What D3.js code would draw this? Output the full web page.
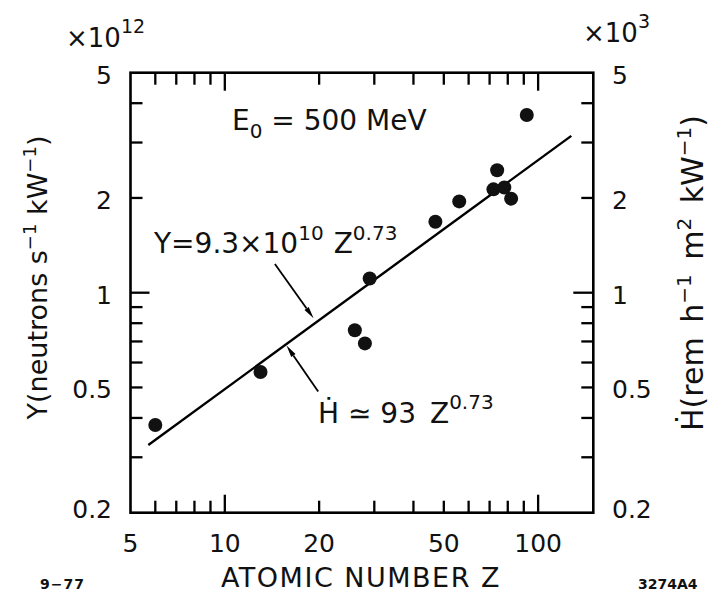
<!DOCTYPE html>
<html><head><meta charset="utf-8">
<script src="https://cdn.jsdelivr.net/npm/d3@7"></script>
<style>
body{margin:0;background:#fff}
svg{display:block}
text{font-family:"DejaVu Sans",sans-serif;fill:#111}
</style>
</head><body>
<svg id="c" width="710" height="594"></svg>
<script>
// ---- data ----
const atomicNumbers = [6, 13, 26, 28, 29, 47, 56, 72, 74, 78, 82, 92];
const neutronYield  = [0.38, 0.56, 0.76, 0.69, 1.11, 1.68, 1.95, 2.13, 2.45, 2.16, 1.99, 3.67]; // ×10^12
const fitZ     = [5.7, 127.6];
const fitYield = [0.328, 3.15];
const xMinorTicks = [6, 7, 8, 9, 20, 30, 40, 50, 60, 70, 80, 90];
const xMajorTicks = [10, 100];
const xTickLabels = [5, 10, 20, 50, 100];
const yMinorTicks = [0.3, 0.4, 0.5, 0.6, 0.7, 0.8, 0.9, 2, 3, 4];
const yMajorTicks = [1];
const yTickLabels = [0.2, 0.5, 1, 2, 5];
const rightTickLabels = [0.2, 0.5, 1, 2, 5]; // ×10^3
const arrowYieldFrom = [14.45, 1.234], arrowYieldTo = [19.2, 0.83];
const arrowDoseFrom  = [19.86, 0.485], arrowDoseTo  = [15.74, 0.679];

// ---- scales ----
const svg = d3.select("#c");
const xs = d3.scaleLog().domain([5, 150]).range([130.5, 593.3]);
const ys = d3.scaleLog().domain([0.2, 5]).range([512.7, 72.7]);
const X0 = xs.range()[0], X1 = xs.range()[1], Y0 = ys.range()[0], Y1 = ys.range()[1];
const fmt = v => String(v);
const TW = 2.3; // tick thickness

// frame
svg.append("rect").attr("x", X0).attr("y", Y1).attr("width", X1 - X0).attr("height", Y0 - Y1)
  .attr("fill", "none").attr("stroke", "#000").attr("stroke-width", 2.6);

// inward ticks as thin filled rectangles placed by the scales
const tickG = svg.append("g").attr("fill", "#000");
function xTickRects(vals, len) {
  tickG.append("g").selectAll("rect").data(vals).join("rect")
    .attr("x", d => xs(d) - TW / 2).attr("y", Y0 - len).attr("width", TW).attr("height", len);
  tickG.append("g").selectAll("rect").data(vals).join("rect")
    .attr("x", d => xs(d) - TW / 2).attr("y", Y1).attr("width", TW).attr("height", len);
}
function yTickRects(vals, lenL, lenR) {
  tickG.append("g").selectAll("rect").data(vals).join("rect")
    .attr("x", X0).attr("y", d => ys(d) - TW / 2).attr("width", lenL).attr("height", TW);
  tickG.append("g").selectAll("rect").data(vals).join("rect")
    .attr("x", X1 - lenR).attr("y", d => ys(d) - TW / 2).attr("width", lenR).attr("height", TW);
}
xTickRects(xMinorTicks, 12);
xTickRects(xMajorTicks, 18);
yTickRects(yMinorTicks, 12, 12);
yTickRects(yMajorTicks, 19, 20);

// tick labels
svg.append("g").selectAll("text").data(xTickLabels).join("text")
  .attr("x", d => xs(d)).attr("y", 551.5).attr("text-anchor", "middle")
  .attr("font-size", 25).text(fmt);
const yLab = d => Math.min(ys(d) + 11, Y0 + 5.5);
svg.append("g").selectAll("text").data(yTickLabels).join("text")
  .attr("x", 112).attr("y", yLab).attr("text-anchor", "end")
  .attr("font-size", 25).text(fmt);
svg.append("g").selectAll("text").data(rightTickLabels).join("text")
  .attr("x", 612).attr("y", yLab).attr("text-anchor", "start")
  .attr("font-size", 25).text(fmt);

// multipliers
const m1 = svg.append("text").attr("x", 66).attr("y", 47).attr("font-size", 26);
m1.append("tspan").text("×10");
m1.append("tspan").attr("dy", -14).attr("font-size", 19).text("12");
const m2 = svg.append("text").attr("x", 583).attr("y", 42).attr("font-size", 26);
m2.append("tspan").text("×10");
m2.append("tspan").attr("dy", -14).attr("font-size", 19).text("3");

// axis titles
svg.append("text").attr("x", 361).attr("y", 587).attr("text-anchor", "middle")
  .attr("font-size", 27).attr("letter-spacing", 1.5).text("ATOMIC NUMBER Z");

const lt = svg.append("text").attr("transform", "translate(47,277.5) rotate(-90)")
  .attr("text-anchor", "middle").attr("font-size", 27);
lt.append("tspan").text("Y(neutrons s");
lt.append("tspan").attr("dy", -11).attr("font-size", 18).text("−1");
lt.append("tspan").attr("dy", 11).text(" kW");
lt.append("tspan").attr("dy", -11).attr("font-size", 18).text("−1");
lt.append("tspan").attr("dy", 11).text(")");

const rt = svg.append("text").attr("transform", "translate(703,273) rotate(-90)")
  .attr("text-anchor", "middle").attr("font-size", 30).attr("word-spacing", 5);
rt.append("tspan").text("Ḣ(rem h");
rt.append("tspan").attr("dy", -12).attr("font-size", 20).text("−1");
rt.append("tspan").attr("dy", 12).text(" m");
rt.append("tspan").attr("dy", -12).attr("font-size", 20).text("2");
rt.append("tspan").attr("dy", 12).text(" kW");
rt.append("tspan").attr("dy", -12).attr("font-size", 20).text("−1");
rt.append("tspan").attr("dy", 12).text(")");

svg.append("text").attr("x", 40).attr("y", 589).attr("font-size", 14).attr("font-weight", "bold")
  .attr("letter-spacing", 1).text("9−77");
svg.append("text").attr("x", 638).attr("y", 589).attr("font-size", 14).attr("font-weight", "bold")
  .text("3274A4");

// fit line
const fitGen = d3.line().x(d => xs(d[0])).y(d => ys(d[1]));
svg.append("path").datum(fitZ.map((z, i) => [z, fitYield[i]])).attr("d", fitGen)
  .attr("fill", "none").attr("stroke", "#000").attr("stroke-width", 2.4);

// points
svg.append("g").selectAll("circle").data(atomicNumbers.map((z, i) => [z, neutronYield[i]])).join("circle")
  .attr("cx", d => xs(d[0])).attr("cy", d => ys(d[1])).attr("r", 7).attr("fill", "#111");

// arrows (shaft + explicit head polygon, no markers)
[[arrowYieldFrom, arrowYieldTo], [arrowDoseFrom, arrowDoseTo]].forEach(([a, b]) => {
  const ax = xs(a[0]), ay = ys(a[1]), bx = xs(b[0]), by = ys(b[1]);
  const L = Math.hypot(bx - ax, by - ay), ux = (bx - ax) / L, uy = (by - ay) / L;
  const hl = 12, hw = 2.6;
  const cx = bx - ux * hl, cy = by - uy * hl;
  svg.append("path").attr("d", `M${ax},${ay}L${cx},${cy}`)
    .attr("stroke", "#000").attr("stroke-width", 1.8).attr("fill", "none");
  svg.append("path")
    .attr("d", `M${bx},${by}L${cx - uy * hw},${cy + ux * hw}L${cx + uy * hw},${cy - ux * hw}Z`)
    .attr("fill", "#000");
});

// annotations
const e0 = svg.append("text").attr("x", 232).attr("y", 130).attr("font-size", 28);
e0.append("tspan").text("E");
e0.append("tspan").attr("dy", 8).attr("font-size", 20).text("0");
e0.append("tspan").attr("dy", -8).text(" = 500  MeV");

const yf = svg.append("text").attr("x", 154).attr("y", 253).attr("font-size", 28);
yf.append("tspan").text("Y=9.3×10");
yf.append("tspan").attr("dy", -13).attr("font-size", 20).text("10");
yf.append("tspan").attr("dy", 13).attr("dx", 10).text("Z");
yf.append("tspan").attr("dy", -13).attr("font-size", 20).text("0.73");

const hf = svg.append("text").attr("x", 318).attr("y", 423).attr("font-size", 28);
hf.append("tspan").text("Ḣ ≃ 93");
hf.append("tspan").attr("dx", 14).text("Z");
hf.append("tspan").attr("dy", -14).attr("font-size", 20).text("0.73");
</script>
</body></html>
